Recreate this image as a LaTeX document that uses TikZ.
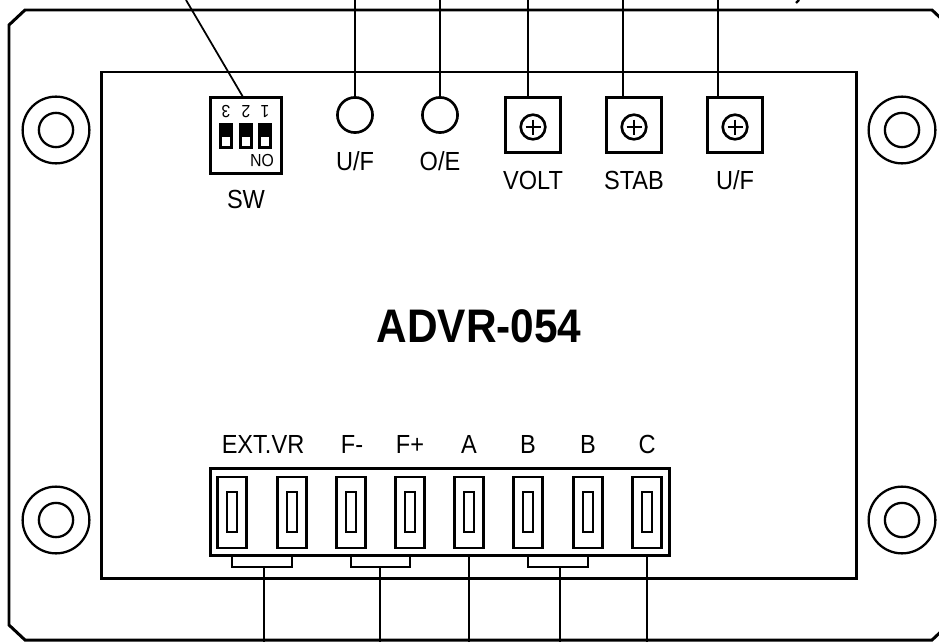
\documentclass[tikz,border=0pt]{standalone}
\usepackage{fontspec}
\setmainfont[FakeStretch=0.9]{Liberation Sans}
\tikzset{
    heavy/.style={line width=1.7pt},
    wire/.style={line width=1pt},
    thinwire/.style={line width=0.8pt},
    lbl/.style={font=\fontsize{14.9}{17}\selectfont, inner sep=0pt},
    mount/.style={draw, circle, line width=1.3pt, inner sep=0pt},
    lamp/.style={draw, circle, line width=1.5pt, inner sep=0pt, minimum size=20pt},
    pot/.style={draw, rectangle, line width=1.5pt, inner sep=0pt, minimum size=31pt},
    screw/.style={draw, circle, line width=1.5pt, inner sep=0pt, minimum size=14pt},
    pin/.style={draw, rectangle, line width=1.4pt, inner sep=0pt, minimum width=16.5pt, minimum height=40.5pt},
    slot/.style={draw, rectangle, line width=1.4pt, inner sep=0pt, minimum width=5.4pt, minimum height=22.8pt},
    slider/.style={draw, rectangle, line width=0.6pt, fill=black, inner sep=0pt, minimum width=7pt, minimum height=13.7pt},
    knob/.style={rectangle, fill=white, inner sep=0pt, minimum width=4pt, minimum height=5pt},
    digit/.style={font=\fontsize{10}{12}\selectfont, inner sep=0pt, rotate=180},
}
\begin{document}
\begin{tikzpicture}[x=0.02cm, y=-0.02cm]
        \useasboundingbox (0,0) rectangle (939,642);
        \clip (0,0) rectangle (939,642);

        \draw[heavy] (25,10) -- (932,10) -- (948,25) -- (948,625) -- (932,640) -- (25,640) -- (9,625) -- (9,25) -- cycle;
        \node[draw, rectangle, heavy, inner sep=0pt, minimum width=429.2pt, minimum height=288pt] (board) at (479,325) {};

        \foreach \name/\px/\py in {nw/56/130, ne/902/130, sw/56/520, se/902/520} {
            \node[mount, minimum size=38pt] (\name out) at (\px,\py) {};
            \node[mount, minimum size=19.5pt] (\name in) at (\px,\py) {};
        }

        \node[draw, rectangle, line width=1.7pt, inner sep=0pt, minimum width=40pt, minimum height=43.5pt] (dip) at (246,135.5) {};
        \foreach \name/\px/\txt in {a/226/3, b/246/2, c/265/1} {
            \node[digit] at (\px,112) {\txt};
            \node[slider] (sl\name) at (\px,136) {};
            \node[knob] at (\px,141.5) {};
        }
        \node[digit] (on) at (262,161) {ON};
        \node[lbl] (swl) at (246,199) {SW};

        \node[lamp] (uf) at (355,115) {};
        \node[lamp] (oe) at (440,115) {};
        \node[lbl] (ufl) at (355,161) {U/F};
        \node[lbl] (oel) at (440,161) {O/E};

        \foreach \name/\px/\txt in {volt/533/VOLT, stab/634/STAB, trim/735/{U/F}} {
            \node[pot] (\name) at (\px,125) {};
            \node[screw] (\name s) at (\px,127) {};
            \draw[line width=1.5pt] (\px-7.5,127) -- (\px+7.5,127);
            \draw[line width=1.5pt] (\px,119.5) -- (\px,134.5);
            \node[lbl] (\name l) at (\px,180) {\txt};
        }

        \coordinate (tsw) at (186,0);
        \coordinate (tuf) at (355,0);
        \coordinate (toe) at (440,0);
        \coordinate (tvolt) at (528,0);
        \coordinate (tstab) at (623,0);
        \coordinate (ttrim) at (718,0);
        \draw[wire] (tsw) -- (243,97);
        \draw[wire] (tuf) -- (uf);
        \draw[wire] (toe) -- (oe);
        \draw[wire] (tvolt) -- (tvolt |- volt.north);
        \draw[wire] (tstab) -- (tstab |- stab.north);
        \draw[wire] (ttrim) -- (ttrim |- trim.north);
        \draw[line width=1.3pt] (799,0) -- (796,3);

        \node[lbl, font=\fontsize{26.8}{31}\selectfont\bfseries] (title) at (479,326) {ADVR-054};

        \node[draw, rectangle, heavy, inner sep=0pt, minimum width=260.7pt, minimum height=49pt] (conn) at (440,512) {};
        \foreach \name/\px in {1/232, 2/292, 3/351, 4/410, 5/469, 6/528, 7/588, 8/647} {
            \node[pin] (p\name) at (\px,512.5) {};
            \node[slot] (s\name) at (\px,512) {};
        }
        \node[lbl] at (263,444) {EXT.VR};
        \node[lbl] at (352,444) {F-};
        \node[lbl] at (410,444) {F+};
        \node[lbl] at (469,444) {A};
        \node[lbl] at (528,444) {B};
        \node[lbl] at (588,444) {B};
        \node[lbl] at (647,444) {C};

        \coordinate (brk) at (0,567);
        \coordinate (bot) at (0,642);
        \draw[thinwire] (p1 |- conn.south) -- (p1 |- brk) -- (p2 |- brk) -- (p2 |- conn.south);
        \draw[thinwire] (p3 |- conn.south) -- (p3 |- brk) -- (p4 |- brk) -- (p4 |- conn.south);
        \draw[thinwire] (p6 |- conn.south) -- (p6 |- brk) -- (p7 |- brk) -- (p7 |- conn.south);
        \coordinate (ext) at (264,567);
        \coordinate (fld) at (380,567);
        \coordinate (bb) at (560,567);
        \draw[wire] (ext) -- (ext |- bot);
        \draw[wire] (fld) -- (fld |- bot);
        \draw[wire] (p5 |- conn.south) -- (p5 |- bot);
        \draw[wire] (bb) -- (bb |- bot);
        \draw[wire] (p8 |- conn.south) -- (p8 |- bot);
    \end{tikzpicture}
\end{document}
